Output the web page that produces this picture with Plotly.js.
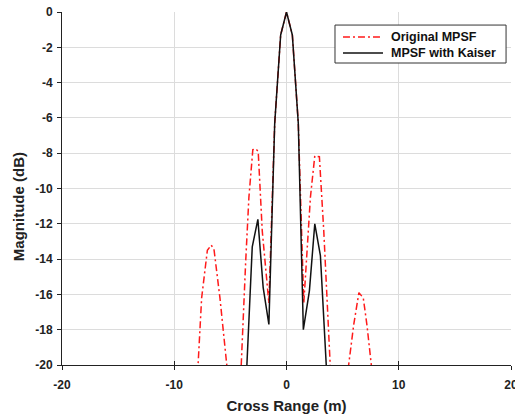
<!DOCTYPE html>
<html>
<head>
<meta charset="utf-8">
<script src="https://cdn.plot.ly/plotly-3.0.1.min.js"></script>
<style>html,body{margin:0;padding:0;background:#fff;}#chart{width:515px;height:416px;}</style>
</head>
<body>
<div id="chart"></div>
<script>
// Original MPSF (red dash-dot)
const origX = [-8.3, -7.88, -7.56, -7.05, -6.7, -6.45, -5.93, -5.57, -5.0, -4.55, -4.1, -3.64, -3.35, -3.0, -2.75, -2.52, -2.16, -1.57, -1.05, -0.52, 0, 0.52, 1.05, 1.54, 1.84, 2.13, 2.52, 2.93, 3.32, 3.76, 3.94, 4.2, 4.8, 5.3, 5.98, 6.45, 6.84, 7.17, 7.56, 7.9];
const origY = [-23, -20, -16.2, -13.5, -13.2, -13.5, -16.2, -18.2, -22, -32, -21, -14.2, -10.5, -7.8, -7.75, -7.9, -12.4, -16.5, -6.3, -1.3, 0, -1.3, -6.3, -16.5, -13.3, -10.5, -8.15, -8.2, -12.4, -18.0, -20, -23, -32, -21.2, -17.75, -15.9, -16.2, -17.75, -20, -22];
// MPSF with Kaiser (black solid)
const kaiserX = [-3.6, -3.05, -2.55, -2.08, -1.57, -1.05, -0.52, 0, 0.52, 1.05, 1.5, 2.04, 2.52, 3.02, 3.6];
const kaiserY = [-21, -13.3, -11.75, -15.6, -17.7, -6.3, -1.3, 0, -1.3, -6.3, -18.0, -15.8, -12.0, -13.8, -20.7];
const seriesNames = ['Original MPSF', 'MPSF with Kaiser'];
const xTicks = [-20, -10, 0, 10, 20];
const xTickText = ['-20', '-10', '0', '10', '20'];
const yTicks = [0, -2, -4, -6, -8, -10, -12, -14, -16, -18, -20];
const yTickText = ['0', '-2', '-4', '-6', '-8', '-10', '-12', '-14', '-16', '-18', '-20'];

const RED = '#ff1a1a', BLACK = '#111111';
const redLine = {color: RED, width: 1.5, dash: '7px,3px,2px,3px'};
const blackLine = {color: BLACK, width: 1.5};

const traces = [
  {x: origX, y: origY, type: 'scatter', mode: 'lines', name: seriesNames[0], line: redLine},
  {x: kaiserX, y: kaiserY, type: 'scatter', mode: 'lines', name: seriesNames[1], line: blackLine},
  {x: [0], y: [-30], xaxis: 'x2', type: 'scatter', mode: 'lines', showlegend: false, hoverinfo: 'skip'}
];

// legend box (paper coordinates)
const L = {x0: 0.608, x1: 0.989, y0: 0.8555, y1: 0.963, row1: 0.929, row2: 0.884, s0: 0.6258, s1: 0.7149, tx: 0.7283};
const fontFam = 'Arial, "Liberation Sans", sans-serif';
const legFont = {family: fontFam, size: 12.5, weight: 'bold', color: '#111'};
const titleFont = {family: fontFam, size: 15, weight: 'bold', color: '#222'};

const layout = {
  width: 515, height: 416,
  margin: {l: 62, r: 4, t: 12, b: 51},
  paper_bgcolor: '#ffffff', plot_bgcolor: '#ffffff',
  font: {family: fontFam, color: '#222'},
  showlegend: false,
  shapes: [
    {type: 'rect', xref: 'paper', yref: 'paper', x0: L.x0, x1: L.x1, y0: L.y0, y1: L.y1,
     fillcolor: '#ffffff', line: {color: '#333', width: 1}, layer: 'above'},
    {type: 'line', xref: 'paper', yref: 'paper', x0: L.s0, x1: L.s1, y0: L.row1, y1: L.row1, line: redLine, layer: 'above'},
    {type: 'line', xref: 'paper', yref: 'paper', x0: L.s0, x1: L.s1, y0: L.row2, y1: L.row2, line: blackLine, layer: 'above'}
  ],
  annotations: [
    {xref: 'paper', yref: 'paper', x: L.tx, y: L.row1, xanchor: 'left', yanchor: 'middle', showarrow: false, text: seriesNames[0], font: legFont},
    {xref: 'paper', yref: 'paper', x: L.tx, y: L.row2, xanchor: 'left', yanchor: 'middle', showarrow: false, text: seriesNames[1], font: legFont},
    {xref: 'paper', yref: 'paper', x: -0.098, y: 0.45, xanchor: 'center', yanchor: 'middle', textangle: -90, showarrow: false, text: 'Magnitude (dB)', font: titleFont}
  ],
  xaxis: {range: [-20, 20], tickvals: xTicks, ticktext: xTickText, ticklabeloverflow: 'allow', ticklabelstandoff: 5,
    showgrid: true, gridcolor: '#dcdcdc', gridwidth: 1, zeroline: false,
    showline: true, linecolor: '#222', linewidth: 1,
    ticks: 'outside', ticklen: 4, tickcolor: '#222',
    tickfont: {size: 12, weight: 'bold', color: '#222'},
    title: {text: 'Cross Range (m)', font: titleFont, standoff: 9}},
  xaxis2: {overlaying: 'x', matches: 'x', range: [-20, 20], tickvals: xTicks,
    showticklabels: false, showgrid: false, zeroline: false, showline: false,
    ticks: 'inside', ticklen: 4, tickcolor: '#222', side: 'bottom'},
  yaxis: {range: [-20, 0], tickvals: yTicks, ticktext: yTickText, ticklabeloverflow: 'allow', ticklabelstandoff: 2,
    showgrid: true, gridcolor: '#dcdcdc', gridwidth: 1, zeroline: false,
    showline: true, linecolor: '#222', linewidth: 1,
    ticks: 'outside', ticklen: 4, tickcolor: '#222',
    tickfont: {size: 12, weight: 'bold', color: '#222'}}
};
Plotly.newPlot('chart', traces, layout, {displayModeBar: false, staticPlot: true});
</script>
</body>
</html>
